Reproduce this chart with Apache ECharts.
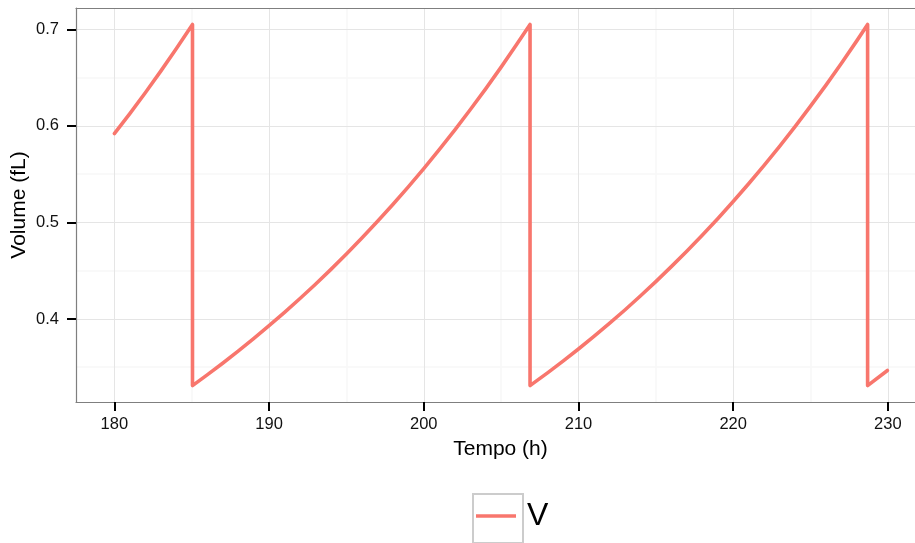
<!DOCTYPE html>
<html><head><meta charset="utf-8">
<script src="https://cdn.jsdelivr.net/npm/echarts@6/dist/echarts.min.js"></script>
<style>html,body{margin:0;padding:0;background:#fff}#c{width:915px;height:543px}</style>
</head><body><div id="c"></div>
<script>
// Tick values
const xTicks = [180, 190, 200, 210, 220, 230];
const xMinor = [185, 195, 205, 215, 225];
const yTicks = [0.4, 0.5, 0.6, 0.7];
const yMinor = [0.35, 0.45, 0.55, 0.65];

// Series "V": volume (fL) vs tempo (h), cycle by cycle
const tempo1  = [180, 181, 182, 183, 184, 185.05];
const volume1 = [0.592, 0.6127, 0.6343, 0.6567, 0.6798, 0.705];

const tempo2  = [185.05, 186, 187, 188, 189, 190, 191, 192, 193, 194, 195, 196, 197, 198, 199, 200, 201, 202, 203, 204, 205, 206, 206.87];
const volume2 = [0.331, 0.3421, 0.3542, 0.3667, 0.3796, 0.3930, 0.4068, 0.4212, 0.4360, 0.4514, 0.4673, 0.4838, 0.5009, 0.5185, 0.5368, 0.5558, 0.5754, 0.5957, 0.6167, 0.6384, 0.6609, 0.6842, 0.705];

const tempo3  = [206.87, 207, 208, 209, 210, 211, 212, 213, 214, 215, 216, 217, 218, 219, 220, 221, 222, 223, 224, 225, 226, 227, 228, 228.69];
const volume3 = [0.331, 0.3325, 0.3442, 0.3563, 0.3689, 0.3819, 0.3954, 0.4093, 0.4238, 0.4387, 0.4542, 0.4702, 0.4868, 0.5039, 0.5217, 0.5401, 0.5591, 0.5788, 0.5992, 0.6204, 0.6422, 0.6649, 0.6883, 0.705];

const tempo4  = [228.69, 229.97];
const volume4 = [0.331, 0.3466];

const seriesName = 'V';
const xName = 'Tempo (h)';
const yName = 'Volume (fL)';

const data = [];
[[tempo1, volume1], [tempo2, volume2], [tempo3, volume3], [tempo4, volume4]].forEach(([t, v]) => {
  t.forEach((x, i) => data.push([x, v[i]]));
});

const FONT = 'Liberation Sans';
const BORDER = '#7f7f7f';
const majorStyle = { color: '#e5e5e5', width: 1, type: 'solid' };
const minorStyle = { color: '#f7f7f7', width: 1.5, type: 'solid' };

const gridLines = [];
xMinor.forEach(v => gridLines.push({ xAxis: v, lineStyle: minorStyle }));
yMinor.forEach(v => gridLines.push({ yAxis: v, lineStyle: minorStyle }));
xTicks.forEach(v => gridLines.push({ xAxis: v, lineStyle: majorStyle }));
yTicks.forEach(v => gridLines.push({ yAxis: v, lineStyle: majorStyle }));

const X_MIN = 177.52, X_MAX = 232.4;

const chart = echarts.init(document.getElementById('c'), null, { renderer: 'canvas' });
chart.setOption({
  animation: false,
  backgroundColor: '#ffffff',
  textStyle: { fontFamily: FONT },
  grid: {
    left: 76, right: -10, top: 8, bottom: 141,
    outerBoundsMode: 'none', containLabel: false, show: false
  },
  xAxis: [{
    type: 'value', min: X_MIN, max: X_MAX, position: 'bottom',
    name: xName, nameLocation: 'middle', nameGap: 37, nameMoveOverlap: false,
    nameTextStyle: { fontFamily: FONT, fontSize: 21, color: '#000' },
    axisLine: { show: true, onZero: false, lineStyle: { color: BORDER, width: 1.2 } },
    axisTick: { show: true, length: 9, lineStyle: { color: '#000', width: 2 }, customValues: xTicks },
    axisLabel: { fontFamily: FONT, fontSize: 16.5, color: '#111', margin: 14, customValues: xTicks },
    splitLine: { show: false }
  }, {
    type: 'value', min: X_MIN, max: X_MAX, position: 'top',
    axisLine: { show: true, onZero: false, lineStyle: { color: BORDER, width: 1.2 } },
    axisTick: { show: false }, axisLabel: { show: false }, splitLine: { show: false }
  }],
  yAxis: {
    type: 'value', min: 0.314, max: 0.7221,
    name: yName, nameLocation: 'middle', nameGap: 46, nameMoveOverlap: false,
    nameTextStyle: { fontFamily: FONT, fontSize: 21, color: '#000' },
    axisLine: { show: true, onZero: false, lineStyle: { color: BORDER, width: 1.2 } },
    axisTick: { show: true, length: 9, lineStyle: { color: '#000', width: 2 }, customValues: yTicks },
    axisLabel: { fontFamily: FONT, fontSize: 16.5, color: '#111', margin: 17, customValues: yTicks,
      formatter: v => v.toFixed(1) },
    splitLine: { show: false }
  },
  legend: {
    data: [seriesName],
    left: 476, top: 500, padding: 0,
    icon: 'rect', itemWidth: 40, itemHeight: 3.5,
    textStyle: { fontFamily: FONT, fontSize: 32, color: '#000', lineHeight: 32, padding: [0, 0, 0, 6] }
  },
  graphic: [{
    type: 'rect', left: 470.5, top: 491.5, silent: true,
    shape: { width: 50, height: 49 },
    style: { fill: 'none', stroke: '#cccccc', lineWidth: 2 }
  }],
  series: [
    {
      name: '__grid', type: 'line', data: [], silent: true, z: 0,
      markLine: { silent: true, symbol: 'none', label: { show: false }, z: 0, data: gridLines, animation: false }
    },
    {
      name: seriesName, type: 'line', data: data, showSymbol: false, symbol: 'none', z: 3,
      lineStyle: { color: '#F8766D', width: 3.6, join: 'round', cap: 'round' },
      itemStyle: { color: '#F8766D' }
    }
  ]
});
</script></body></html>
